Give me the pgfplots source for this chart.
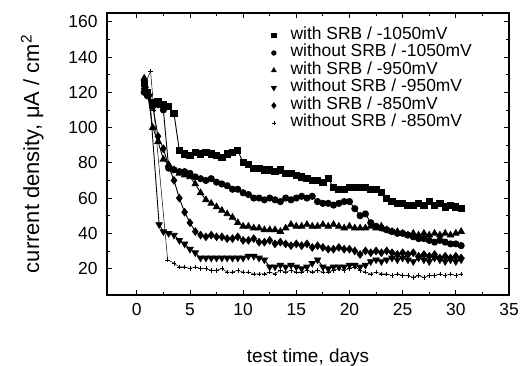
\documentclass[border=0pt]{standalone}
\usepackage{fontspec}
\setmainfont{Liberation Sans}
\usepackage{pgfplots}
\pgfplotsset{compat=1.18}
\pgfplotstableread{
x y
0.7 125
1.0 120
1.5 114
2.0 115
2.5 113
3.0 112
3.5 108
4.0 87
4.5 85
5.0 84
5.5 86
6.0 85
6.5 86
7.0 85
7.5 84
8.0 83
8.5 85
9.0 86
9.5 87
10.0 80
10.5 79
11.0 77
11.5 77
12.0 76
12.5 76
13.0 75
13.5 76
14.0 74
14.5 74
15.0 73
15.5 72
16.0 71
16.5 70
17.0 70
17.5 69
18.0 71
18.5 66
19.0 65
19.5 65
20.0 66
20.5 66
21.0 66
21.5 66
22.0 65
22.5 65
23.0 63
23.5 60
24.0 58
24.5 57
25.0 57
25.5 56
26.0 56
26.5 57
27.0 56
27.5 58
28.0 56
28.5 57
29.0 55
29.5 56
30.0 55
30.5 54
}\sqA
\pgfplotstableread{
x y
0.7 120
1.0 118
1.5 112
2.0 113
2.5 110
3.0 77
3.5 76
4.0 75
4.5 75
5.0 74
5.5 72
6.0 71
6.5 70
7.0 71
7.5 69
8.0 68
8.5 67
9.0 65
9.5 65
10.0 63
10.5 62
11.0 60
11.5 60
12.0 59
12.5 60
13.0 59
13.5 58
14.0 60
14.5 59
15.0 60
15.5 61
16.0 60
16.5 61
17.0 58
17.5 57
18.0 57
18.5 56
19.0 57
19.5 58
20.0 58
20.5 54
21.0 50
21.5 51
22.0 46
22.5 44
23.0 43
23.5 42
24.0 41
24.5 40
25.0 40
25.5 39
26.0 38
26.5 37
27.0 37
27.5 36
28.0 35
28.5 36
29.0 35
29.5 34
30.0 34
30.5 33
}\ciA
\pgfplotstableread{
x y
0.7 128
1.0 120
1.5 100
2.0 92
2.5 82
3.0 79
3.5 76
4.0 74
4.5 73
5.0 72
5.5 68
6.0 63
6.5 59
7.0 57
7.5 55
8.0 53
8.5 51
9.0 49
9.5 46
10.0 44
10.5 44
11.0 43
11.5 43
12.0 42
12.5 42
13.0 42
13.5 41
14.0 43
14.5 45
15.0 44
15.5 44
16.0 45
16.5 44
17.0 44
17.5 45
18.0 44
18.5 45
19.0 44
19.5 43
20.0 44
20.5 43
21.0 43
21.5 43
22.0 44
22.5 43
23.0 44
23.5 42
24.0 41
24.5 41
25.0 40
25.5 39
26.0 40
26.5 39
27.0 40
27.5 39
28.0 40
28.5 39
29.0 40
29.5 39
30.0 40
30.5 41
}\trA
\pgfplotstableread{
x y
0.8 122
1.2 118
2.1 45
2.5 41
3.0 40
3.5 39
4.0 36
4.5 34
5.0 31
5.5 29
6.0 26
6.5 26
7.0 26
7.5 26
8.0 26
8.5 26
9.0 26
9.5 26
10.0 26
10.5 27
11.0 27
11.5 26
12.0 25
12.5 21
13.0 21
13.5 22
14.0 21
14.5 22
15.0 21
15.5 20
16.0 21
16.5 23
17.0 25
17.5 21
18.0 20
18.5 21
19.0 21
19.5 21
20.0 22
20.5 22
21.0 21
21.5 22
22.0 24
22.5 25
23.0 24
23.5 25
24.0 26
24.5 25
25.0 26
25.5 25
26.0 24
26.5 26
27.0 25
27.5 24
28.0 26
28.5 25
29.0 24
29.5 25
30.0 24
30.5 25
}\trB
\pgfplotstableread{
x y
0.7 122
1.0 120
1.5 112
2.0 95
2.5 88
3.0 78
3.5 70
4.0 60
4.5 52
5.0 46
5.5 41
6.0 39
6.5 38
7.0 39
7.5 38
8.0 38
8.5 37
9.0 37
9.5 38
10.0 36
10.5 36
11.0 37
11.5 35
12.0 35
12.5 36
13.0 34
13.5 35
14.0 34
14.5 33
15.0 34
15.5 33
16.0 34
16.5 32
17.0 33
17.5 32
18.0 31
18.5 31
19.0 32
19.5 31
20.0 31
20.5 30
21.0 28
21.5 30
22.0 29
22.5 30
23.0 29
23.5 30
24.0 29
24.5 28
25.0 29
25.5 28
26.0 29
26.5 27
27.0 28
27.5 27
28.0 28
28.5 26
29.0 27
29.5 26
30.0 27
30.5 26
}\diA
\pgfplotstableread{
x y
0.8 125
1.3 132
1.6 110
2.9 25
3.5 23
4.0 21
4.5 21
5.0 20
5.5 21
6.0 20
6.5 20
7.0 19
7.5 19
8.0 20
8.5 18
9.0 18
9.5 19
10.0 18
10.5 18
11.0 17
11.5 17
12.0 17
12.5 18
13.0 17
13.5 19
14.0 18
14.5 19
15.0 18
15.5 18
16.0 19
16.5 18
17.0 19
17.5 18
18.0 18
18.5 19
19.0 20
19.5 19
20.0 20
20.5 21
21.0 19
21.5 18
22.0 17
22.5 18
23.0 17
23.5 17
24.0 16
24.5 17
25.0 16
25.5 16
26.0 15
26.5 16
27.0 15
27.5 16
28.0 16
28.5 17
29.0 16
29.5 17
30.0 16
30.5 17
}\plA
\begin{document}
\begin{tikzpicture}
\useasboundingbox (-107bp,-71bp) rectangle (414bp,295bp);
\begin{axis}[
  at={(0,0)}, anchor=south west,
  scale only axis, width=402bp, height=282bp,
  xmin=-2.8, xmax=35, ymin=5, ymax=165,
  xtick={0,5,...,35}, minor x tick num=1,
  ytick={20,40,...,160}, minor y tick num=1,
  tick align=inside,
  major tick length=5bp, minor tick length=3bp,
  axis line style={line width=1.1pt},
  every tick/.style={black, line width=0.8pt},
  ticklabel style={font=\fontsize{17.5}{20}\selectfont},
  /pgf/number format/assume math mode=true,
  xticklabel style={yshift=-5bp},
  yticklabel style={xshift=-6bp},
  xlabel={test time, days},
  ylabel={current density, μA / cm\textsuperscript{2}},
  xlabel style={font=\fontsize{19}{22}\selectfont, at={(axis description cs:0.5,-0.2234)}, anchor=center},
  ylabel style={font=\fontsize{22}{25}\selectfont, at={(axis description cs:-0.186,0.5)}, anchor=center},
  legend style={at={(axis description cs:0.409,0.952)}, anchor=north west,
    draw=none, fill=none, inner sep=0pt, row sep=0pt, column sep=14.5bp,
    font=\fontsize{17.5}{20}\selectfont,
    nodes={inner sep=0pt, text height=12.5bp, text depth=5bp}},
  legend cell align=left,
  every axis plot/.append style={black, line width=0.9pt},
]
\addplot[forget plot, mark=square*, mark size=3.1bp] table {\sqA};
\addplot[forget plot, mark=*, mark size=3.1bp] table {\ciA};
\addplot[forget plot, mark=triangle*, mark size=3.6bp] table {\trA};
\addplot[forget plot, mark=triangle*, mark size=3.6bp, mark options={rotate=180}] table {\trB};
\addplot[forget plot, mark=diamond*, mark size=3.7bp] table {\diA};
\addplot[forget plot, mark=+, mark size=2.3bp, line width=0.5pt] table {\plA};
\addlegendimage{only marks, mark=square*, mark size=2.2bp}
\addlegendimage{only marks, mark=*, mark size=2.2bp}
\addlegendimage{only marks, mark=triangle*, mark size=2.6bp}
\addlegendimage{only marks, mark=triangle*, mark size=2.6bp, mark options={rotate=180}}
\addlegendimage{only marks, mark=diamond*, mark size=2.7bp}
\addlegendimage{only marks, mark=+, mark size=2bp, line width=0.5pt}
\legend{with SRB / -1050mV, without SRB / -1050mV, with SRB / -950mV, without SRB / -950mV, with SRB / -850mV, without SRB / -850mV}
\end{axis}
\end{tikzpicture}
\end{document}
